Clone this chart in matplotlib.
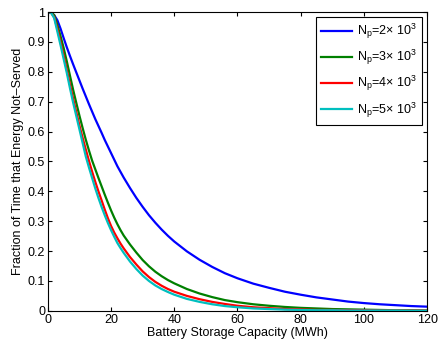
import matplotlib
matplotlib.use('Agg')
import matplotlib.pyplot as plt
import numpy as np

plt.rcParams['font.family'] = ['Liberation Sans', 'DejaVu Sans']
plt.rcParams['mathtext.fontset'] = 'custom'
plt.rcParams['mathtext.rm'] = 'Liberation Sans'
plt.rcParams['mathtext.it'] = 'Liberation Sans'

# battery capacity (MWh)
capacity = [0, 1, 2, 3, 4, 5, 6, 7, 8, 9, 10, 11, 12, 13, 14, 15, 16, 17, 18, 19,
            20, 21, 22, 23, 24, 26, 28, 30, 32, 34, 36, 38, 40, 44, 48, 52, 56, 60,
            65, 70, 75, 80, 85, 90, 95, 100, 105, 110, 115, 120]

# fraction of time energy not served, one series per N_p
np_2k = [1.0, 0.998, 0.99, 0.973, 0.945, 0.913, 0.882, 0.853, 0.825, 0.798,
         0.771, 0.744, 0.718, 0.692, 0.667, 0.642, 0.619, 0.596, 0.572, 0.55,
         0.528, 0.506, 0.484, 0.465, 0.446, 0.411, 0.378, 0.348, 0.32, 0.295,
         0.272, 0.251, 0.232, 0.199, 0.171, 0.147, 0.126, 0.109,
         0.091, 0.077, 0.064, 0.054, 0.045, 0.038, 0.031, 0.026, 0.022, 0.019, 0.016, 0.014]
np_3k = [1.0, 0.999, 0.99, 0.957, 0.92, 0.88, 0.835, 0.787, 0.74, 0.696,
         0.653, 0.612, 0.573, 0.537, 0.503, 0.474, 0.445, 0.417, 0.389, 0.362,
         0.336, 0.312, 0.29, 0.27, 0.252, 0.222, 0.195, 0.17, 0.149, 0.131,
         0.116, 0.103, 0.092, 0.073, 0.058, 0.046, 0.036, 0.029,
         0.022, 0.017, 0.013, 0.01, 0.008, 0.006, 0.005, 0.004, 0.003, 0.002, 0.002, 0.001]
np_4k = [1.0, 0.998, 0.983, 0.945, 0.9, 0.855, 0.806, 0.757, 0.71, 0.665,
         0.62, 0.579, 0.54, 0.502, 0.466, 0.432, 0.4, 0.37, 0.339, 0.31,
         0.284, 0.262, 0.243, 0.225, 0.209, 0.18, 0.155, 0.132, 0.113, 0.097,
         0.084, 0.073, 0.064, 0.05, 0.039, 0.03, 0.023, 0.017,
         0.012, 0.009, 0.006, 0.005, 0.003, 0.003, 0.002, 0.002, 0.001, 0.001, 0.001, 0.001]
np_5k = [1.0, 0.998, 0.98, 0.935, 0.89, 0.843, 0.796, 0.745, 0.697, 0.652,
         0.607, 0.562, 0.517, 0.48, 0.445, 0.41, 0.378, 0.348, 0.32, 0.294,
         0.27, 0.248, 0.227, 0.21, 0.194, 0.165, 0.14, 0.118, 0.1, 0.085,
         0.073, 0.063, 0.054, 0.04, 0.03, 0.022, 0.016, 0.012,
         0.008, 0.006, 0.004, 0.003, 0.002, 0.002, 0.001, 0.001, 0.001, 0.001, 0.0005, 0.0005]

labels = [r'N$_\mathregular{p}$=2$\times$ 10$^\mathregular{3}$',
          r'N$_\mathregular{p}$=3$\times$ 10$^\mathregular{3}$',
          r'N$_\mathregular{p}$=4$\times$ 10$^\mathregular{3}$',
          r'N$_\mathregular{p}$=5$\times$ 10$^\mathregular{3}$']
colors = ['#0000ff', '#008000', '#ff0000', '#00bfbf']

fig = plt.figure(figsize=(4.39, 3.45), dpi=100)
ax = fig.add_axes([0.109, 0.099, 0.864, 0.866])

for y, lab, c in zip([np_2k, np_3k, np_4k, np_5k], labels, colors):
    ax.plot(capacity, y, color=c, lw=1.6, label=lab)

# a. axes limits and ticks
ax.set_xlim(0, 120)
ax.set_ylim(0, 1)
ax.set_xticks(np.arange(0, 121, 20))
ax.set_yticks(np.arange(0, 1.01, 0.1))
ax.set_yticklabels(['0', '0.1', '0.2', '0.3', '0.4', '0.5', '0.6', '0.7', '0.8', '0.9', '1'])
ax.tick_params(direction='in', top=True, right=True, labelsize=9, length=3, pad=2)
for s in ax.spines.values():
    s.set_linewidth(0.8)

# b. labels
ax.set_xlabel('Battery Storage Capacity (MWh)', fontsize=9, labelpad=1)
ax.set_ylabel('Fraction of Time that Energy Not\u2013Served', fontsize=9, labelpad=3)

# c. legend
leg = ax.legend(loc='upper right', fontsize=9, handlelength=2.5, labelspacing=0.55,
                fancybox=False, edgecolor='black', framealpha=1,
                borderaxespad=0.4, handletextpad=0.4)
leg.get_frame().set_linewidth(0.8)

fig.savefig('out.png', dpi=100)
